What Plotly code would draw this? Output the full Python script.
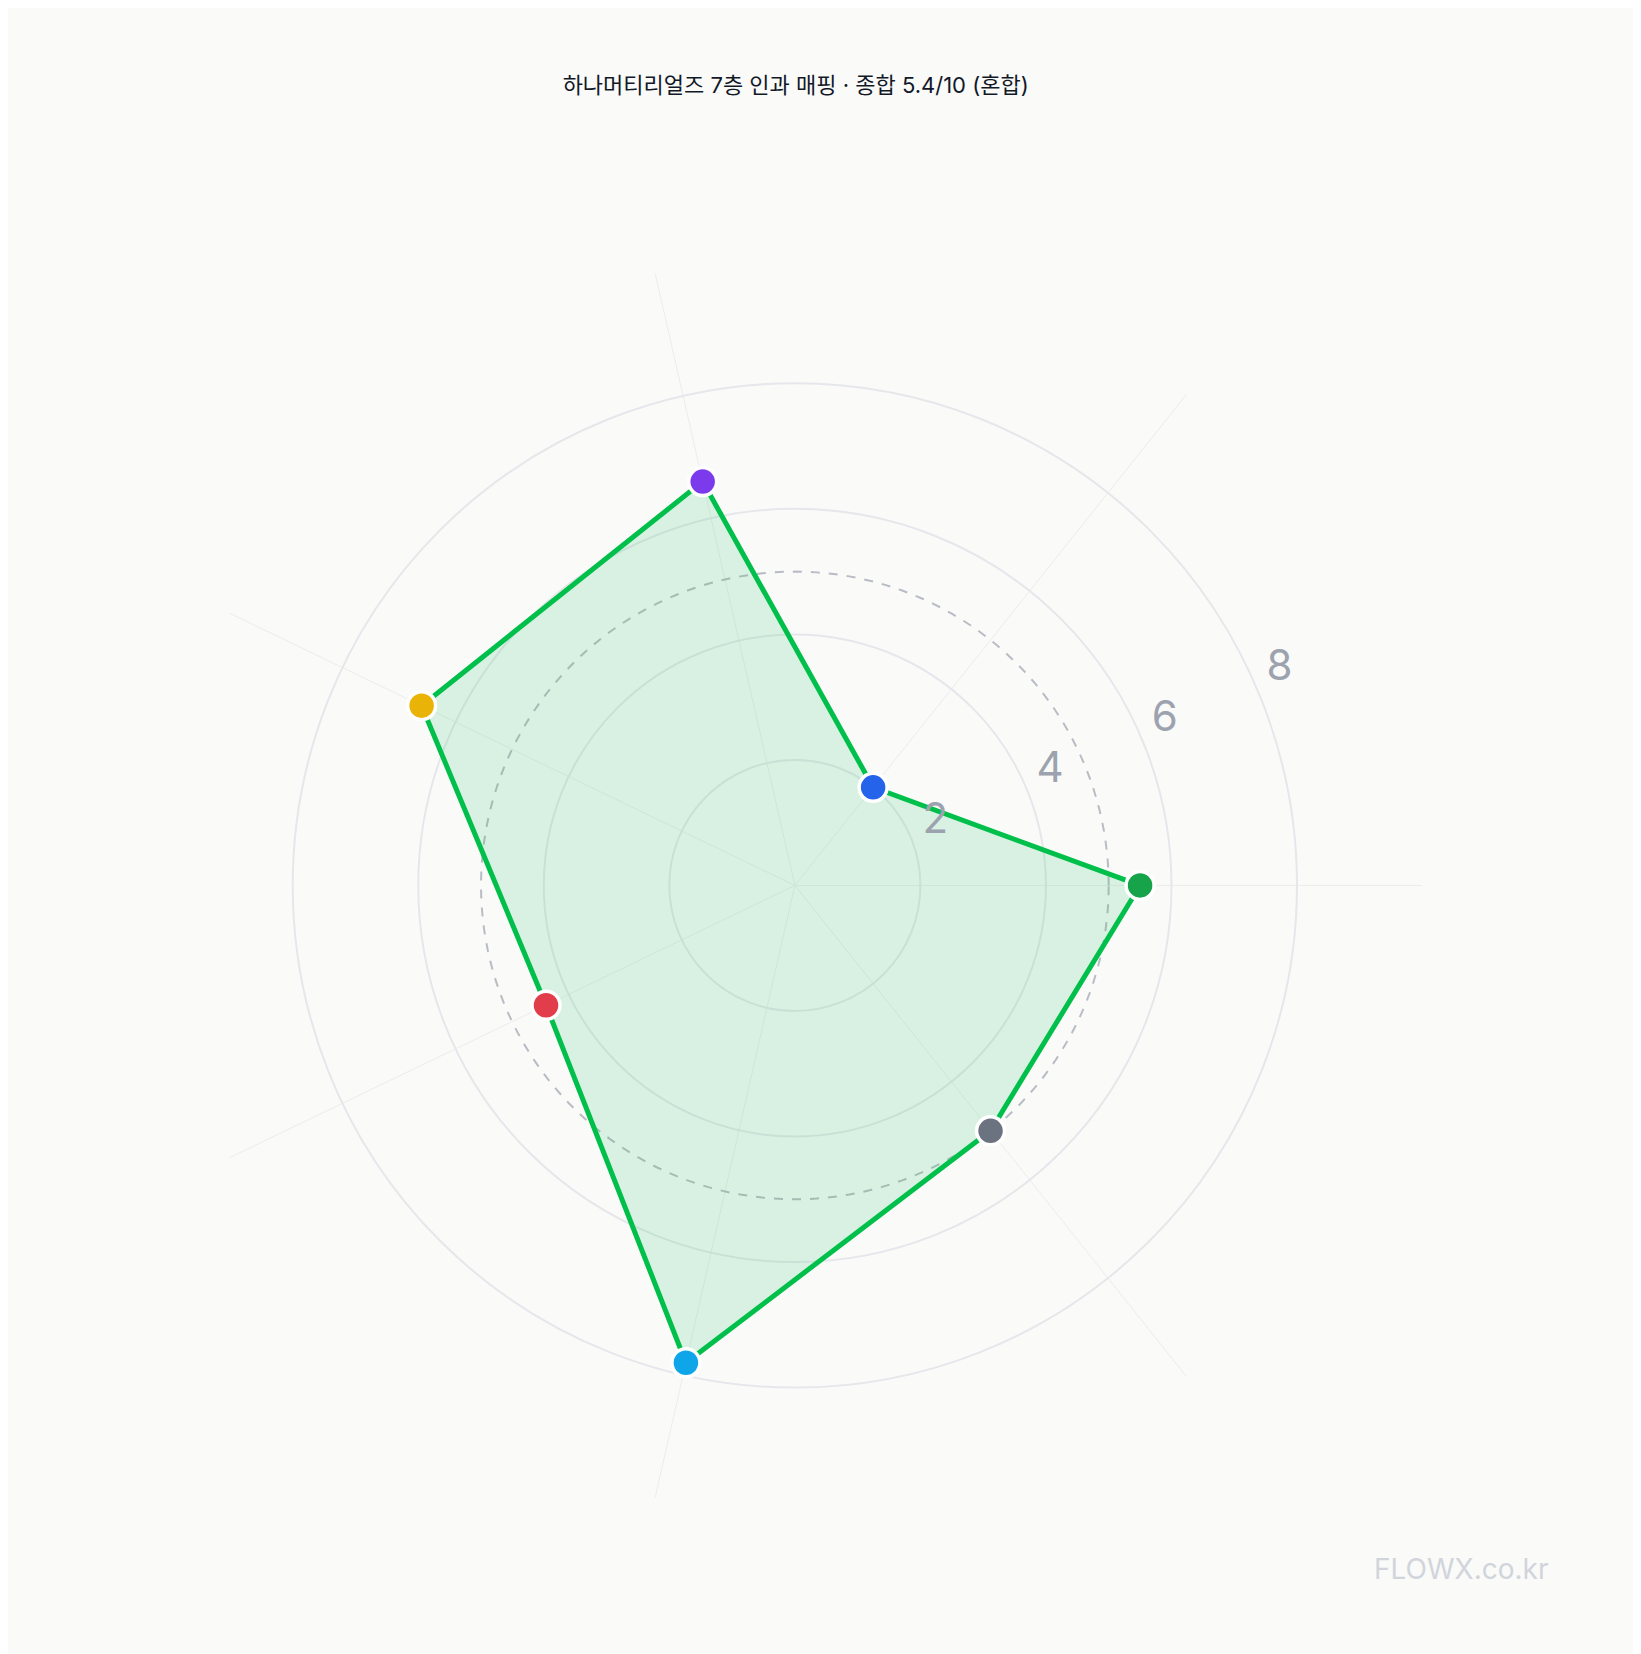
import numpy as np
import plotly.graph_objects as go

layers = ["펀더", "산업", "정책", "매크로", "정보 우위", "글로벌", "공매도"]
scores = [5.5, 2.0, 6.6, 6.6, 4.4, 7.8, 5.0]
grades = ["혼합", "위험", "안정", "안정", "약함", "강함", "혼합"]
dot_colors = ["#16a34a", "#2563eb", "#7c3aed", "#eab308", "#e23d4b", "#0ea5e9", "#6b7280"]
radial_ticks = [2, 4, 6, 8, 10]
total = 5.4
mid_line = 5

angles = [i * 360 / len(layers) for i in range(len(layers))]
labels = [f"{n}<br>{s:.1f} ({g})" for n, s, g in zip(layers, scores, grades)]
FONT = "Inter, Noto Sans CJK KR, sans-serif"

fig = go.Figure()
circ = np.linspace(0, 360, 181)
fig.add_trace(go.Scatterpolar(r=[mid_line] * len(circ), theta=circ, mode="lines",
                              line=dict(color="#b8bcc4", width=2, dash="dash"),
                              hoverinfo="skip", showlegend=False))
fig.add_trace(go.Scatterpolar(r=scores + scores[:1], theta=angles + angles[:1], mode="lines",
                              fill="toself", fillcolor="rgba(34,197,94,0.15)",
                              line=dict(color="#00c04b", width=5), showlegend=False))
fig.add_trace(go.Scatterpolar(r=scores, theta=angles, mode="markers",
                              marker=dict(size=28, color=dot_colors, line=dict(color="white", width=3.5)),
                              showlegend=False))
# radial tick numbers, upright
fig.add_trace(go.Scatterpolar(r=[v + 0.45 for v in radial_ticks], theta=[24] * len(radial_ticks),
                              mode="text", text=[str(v) for v in radial_ticks],
                              textfont=dict(size=42, color="#9ca3af", family=FONT),
                              cliponaxis=False, hoverinfo="skip", showlegend=False))
# category labels
fig.add_trace(go.Scatterpolar(r=[10.65] * len(layers), theta=angles, mode="text", text=labels,
                              textposition="middle center",
                              textfont=dict(size=46, color="#111827", family=FONT),
                              cliponaxis=False, hoverinfo="skip", showlegend=False))

fig.update_layout(
    width=1641, height=1654, paper_bgcolor="#fafaf9", plot_bgcolor="#fafaf9",
    margin=dict(l=0, r=0, t=0, b=0),
    font=dict(family=FONT, color="#111827"),
    title=dict(text=f"하나머티리얼즈 7층 인과 매핑 · 종합 {total}/10 (혼합)", x=0.48, y=0.958,
               xanchor="center", font=dict(size=22, color="#111827")),
    polar=dict(
        bgcolor="rgba(0,0,0,0)",
        domain=dict(x=[0.097, 0.862], y=[0.09, 0.849]),
        angularaxis=dict(direction="counterclockwise", rotation=0, tickmode="array",
                         tickvals=angles, showticklabels=False,
                         showline=False, gridcolor="#ececec", ticks=""),
        radialaxis=dict(range=[0, 10], tickvals=radial_ticks, showticklabels=False,
                        showline=False, gridcolor="#e5e7eb", gridwidth=2, ticks=""),
    ),
    annotations=[dict(text="FLOWX.co.kr", x=0.94, y=0.045, xref="paper", yref="paper",
                      xanchor="right", showarrow=False,
                      font=dict(size=28, color="#d1d5db", family="Inter"))],
)
fig.write_html("out.html")
